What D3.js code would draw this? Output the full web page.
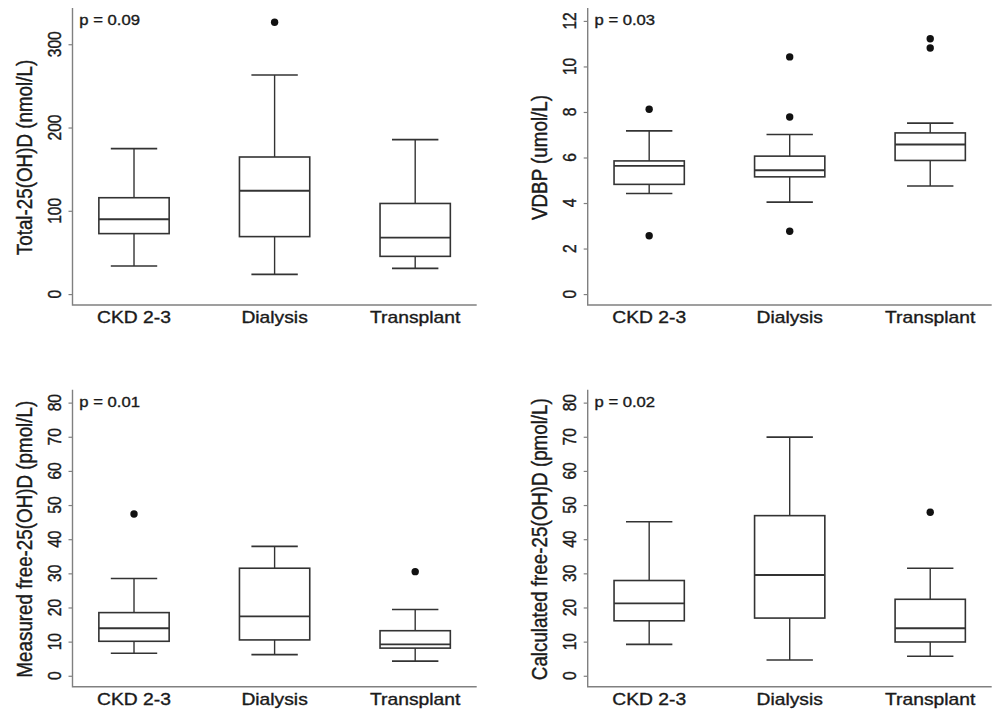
<!DOCTYPE html>
<html>
<head>
<meta charset="utf-8">
<script src="https://cdn.jsdelivr.net/npm/d3@7"></script>
<style>
  html, body { margin: 0; padding: 0; background: #fff; }
  svg { display: block; }
</style>
</head>
<body>
<svg id="chart" width="994" height="709"></svg>
<script>
// ---------- data ----------
const categories = ["CKD 2-3", "Dialysis", "Transplant"];

// [lower whisker, Q1, median, Q3, upper whisker]
const totalStats = [[33.7, 72.6, 89.9, 115.7, 174.7], [23.6, 69, 124, 164.6, 263], [30.8, 45.3, 67.8, 108.8, 185.5]];
const totalOutliers = [[], [326.5], []];
const totalTicks = [0, 100, 200, 300];

const vdbpStats = [[4.42, 4.82, 5.63, 5.85, 7.17], [4.04, 5.15, 5.44, 6.06, 7.01], [4.75, 5.87, 6.57, 7.08, 7.51]];
const vdbpOutliers = [[8.12, 2.56], [10.42, 7.78, 2.76], [11.22, 10.81]];
const vdbpTicks = [0, 2, 4, 6, 8, 10, 12];

const measuredStats = [[6.6, 10.1, 13.9, 18.5, 28.5], [6.2, 10.5, 17.4, 31.5, 37.9], [4.3, 8.1, 9.2, 13.2, 19.4]];
const measuredOutliers = [[47.4], [], [30.5]];
const freeTicks = [0, 10, 20, 30, 40, 50, 60, 70, 80];

const calcStats = [[9.2, 16.1, 21.2, 27.9, 45.1], [4.6, 16.9, 29.5, 46.9, 69.9], [5.7, 9.9, 13.9, 22.4, 31.5]];
const calcOutliers = [[], [], [47.9]];

const panels = [
  { title: "Total-25(OH)D (nmol/L)", p: "p = 0.09", stats: totalStats, outliers: totalOutliers, ticks: totalTicks, ylim: [0, 328],
    left: 72.5, right: 476.7, top: 10, bottom: 305 },
  { title: "VDBP (umol/L)", p: "p = 0.03", stats: vdbpStats, outliers: vdbpOutliers, ticks: vdbpTicks, ylim: [0, 12],
    left: 587.7, right: 991.7, top: 10, bottom: 305 },
  { title: "Measured free-25(OH)D (pmol/L)", p: "p = 0.01", stats: measuredStats, outliers: measuredOutliers, ticks: freeTicks, ylim: [0, 80],
    left: 72.5, right: 476.7, top: 391.7, bottom: 686.7 },
  { title: "Calculated free-25(OH)D (pmol/L)", p: "p = 0.02", stats: calcStats, outliers: calcOutliers, ticks: freeTicks, ylim: [0, 80],
    left: 587.7, right: 991.7, top: 391.7, bottom: 686.7 }
];

// ---------- drawing ----------
const svg = d3.select("#chart");
const FONT = "'Liberation Sans', Arial, Helvetica, sans-serif";
const SX = 1.19;          // horizontal stretch of the original image
const BOX = "#333";
const AXIS = "#808080";
const TEXT = "#1a1a1a";

function styleText(sel, size) {
  sel.attr("font-family", FONT).attr("font-size", size).attr("fill", TEXT)
     .attr("stroke", TEXT).attr("stroke-width", 0.35);
}

panels.forEach(pn => {
  const g = svg.append("g");
  const x = d3.scalePoint().domain(categories).range([pn.left, pn.right]).padding(0.4375);
  const r = pn.ylim[1] - pn.ylim[0];
  const y = d3.scaleLinear().domain([pn.ylim[0] - 0.04 * r, pn.ylim[1] + 0.04 * r]).range([pn.bottom, pn.top]);
  const step = x.step();
  const bw = step * 0.5;
  const cw = step * 0.33;

  // L-shaped frame
  g.append("path")
    .attr("d", `M${pn.left},${pn.top - 2}V${pn.bottom}H${pn.right}`)
    .attr("fill", "none").attr("stroke", AXIS).attr("stroke-width", 1.4);

  // y axis ticks via d3 axis
  const yAxis = d3.axisLeft(y).tickValues(pn.ticks).tickSize(4).tickFormat("");
  const ya = g.append("g").attr("transform", `translate(${pn.left},0)`).call(yAxis);
  ya.select(".domain").remove();
  ya.selectAll(".tick line").attr("stroke", AXIS).attr("stroke-width", 1.2);

  // rotated tick labels
  styleText(g.selectAll(".ylab").data(pn.ticks).enter().append("text")
    .attr("transform", d => `translate(${pn.left - 12},${y(d)}) scale(${SX},1) rotate(-90)`)
    .attr("text-anchor", "middle")
    .text(d => d), 15.6);

  // y title
  styleText(g.append("text")
    .attr("transform", `translate(${pn.left - 41},${(pn.top + pn.bottom) / 2}) scale(${SX},1) rotate(-90)`)
    .attr("text-anchor", "middle")
    .text(pn.title), 18.8);

  // x labels
  styleText(g.selectAll(".xlab").data(categories).enter().append("text")
    .attr("transform", d => `translate(${x(d)},${pn.bottom + 18.3}) scale(${SX},1)`)
    .attr("text-anchor", "middle")
    .text(d => d), 16.2);

  // p value
  styleText(g.append("text")
    .attr("transform", `translate(${pn.left + 6.8},${pn.top + 15}) scale(${SX},1)`)
    .text(pn.p), 14);

  // boxes
  categories.forEach((c, i) => {
    const s = pn.stats[i];
    const cx = x(c);
    const bg = g.append("g").attr("stroke", BOX).attr("fill", "none");
    // whiskers
    bg.append("line").attr("x1", cx).attr("x2", cx).attr("y1", y(s[0])).attr("y2", y(s[1])).attr("stroke-width", 1.4);
    bg.append("line").attr("x1", cx).attr("x2", cx).attr("y1", y(s[3])).attr("y2", y(s[4])).attr("stroke-width", 1.4);
    // caps
    bg.append("line").attr("x1", cx - cw / 2).attr("x2", cx + cw / 2).attr("y1", y(s[0])).attr("y2", y(s[0])).attr("stroke-width", 1.6);
    bg.append("line").attr("x1", cx - cw / 2).attr("x2", cx + cw / 2).attr("y1", y(s[4])).attr("y2", y(s[4])).attr("stroke-width", 1.6);
    // box
    bg.append("rect").attr("x", cx - bw / 2).attr("width", bw)
      .attr("y", y(s[3])).attr("height", y(s[1]) - y(s[3])).attr("stroke-width", 1.6);
    // median
    bg.append("line").attr("x1", cx - bw / 2).attr("x2", cx + bw / 2).attr("y1", y(s[2])).attr("y2", y(s[2])).attr("stroke-width", 1.9);
    // outliers
    g.selectAll(null).data(pn.outliers[i]).enter().append("circle")
      .attr("cx", cx).attr("cy", d => y(d)).attr("r", 3.7).attr("fill", "#111");
  });
});
</script>
</body>
</html>
